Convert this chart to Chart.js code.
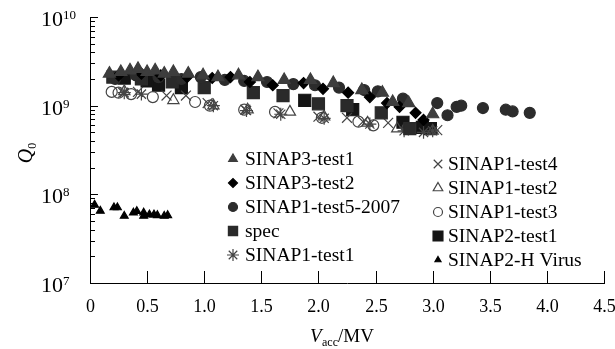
<!DOCTYPE html>
<html lang="en">
<head>
<meta charset="UTF-8">
<title>Q0 vs Vacc</title>
<script src="https://cdn.jsdelivr.net/npm/chart.js"></script>
<style>
    html, body { margin: 0; padding: 0; background: #fff; }
    #wrap { width: 615px; height: 349px; position: relative; }
</style>
</head>
<body>
<div id="wrap"><canvas id="qChart"></canvas></div>
<script>
    // accelerating voltage (MV) and Q0 for each test
    var s3t1V = [0.17, 0.27, 0.35, 0.42, 0.50, 0.57, 0.65, 0.73, 0.86, 0.99, 1.12, 1.30, 1.47, 1.70, 1.93, 2.13, 2.38, 2.56, 2.65, 2.79, 3.00];
    var s3t1Q = [2.3e9, 2.4e9, 2.5e9, 2.6e9, 2.4e9, 2.5e9, 2.3e9, 2.4e9, 2.3e9, 2.2e9, 2.1e9, 2.2e9, 2.1e9, 1.95e9, 1.95e9, 1.8e9, 1.5e9, 1.4e9, 1.1e9, 1.07e9, 0.8e9];

    var s3t2V = [0.25, 0.45, 0.62, 0.85, 1.07, 1.23, 1.40, 1.60, 1.87, 2.04, 2.26, 2.45, 2.60, 2.71, 2.85, 2.92];
    var s3t2Q = [2.2e9, 2.3e9, 2.2e9, 2.1e9, 2.05e9, 2.1e9, 1.85e9, 1.7e9, 1.8e9, 1.55e9, 1.4e9, 1.25e9, 1.07e9, 0.97e9, 0.83e9, 0.69e9];

    var s1t5V = [0.22, 0.40, 0.60, 0.80, 0.97, 1.18, 1.35, 1.55, 1.78, 1.97, 2.18, 2.40, 2.52, 2.74, 3.04, 3.13, 3.21, 3.25, 3.44, 3.64, 3.70, 3.85];
    var s1t5Q = [2.0e9, 2.2e9, 2.1e9, 2.0e9, 2.1e9, 1.95e9, 1.9e9, 1.85e9, 1.75e9, 1.7e9, 1.6e9, 1.5e9, 1.45e9, 1.2e9, 1.07e9, 0.78e9, 0.97e9, 1.0e9, 0.94e9, 0.9e9, 0.86e9, 0.83e9];

    var specV = [0.20, 0.45, 0.72, 1.00, 1.43, 1.69, 2.00, 2.25, 2.55, 2.80];
    var specQ = [2.1e9, 2.0e9, 1.85e9, 1.6e9, 1.4e9, 1.3e9, 1.05e9, 1.0e9, 0.83e9, 0.55e9];

    var s1t1V = [0.30, 0.45, 1.08, 1.37, 1.67, 2.05, 2.45, 2.75, 2.92, 3.00];
    var s1t1Q = [1.4e9, 1.35e9, 1.0e9, 0.88e9, 0.8e9, 0.72e9, 0.62e9, 0.52e9, 0.5e9, 0.52e9];

    var s1t4V = [0.29, 0.42, 0.67, 0.84, 1.03, 1.36, 1.65, 2.00, 2.25, 2.39, 2.61, 3.04];
    var s1t4Q = [1.4e9, 1.43e9, 1.3e9, 1.3e9, 1.07e9, 0.9e9, 0.82e9, 0.75e9, 0.73e9, 0.66e9, 0.64e9, 0.53e9];

    var s1t2V = [0.30, 0.73, 1.08, 1.38, 1.75, 2.05, 2.43, 2.69, 3.00];
    var s1t2Q = [1.45e9, 1.15e9, 1.0e9, 0.9e9, 0.85e9, 0.75e9, 0.64e9, 0.55e9, 0.52e9];

    var s1t3V = [0.19, 0.25, 0.36, 0.55, 0.92, 1.05, 1.35, 1.62, 2.03, 2.35, 2.48, 2.78];
    var s1t3Q = [1.43e9, 1.4e9, 1.35e9, 1.25e9, 1.1e9, 1.0e9, 0.9e9, 0.85e9, 0.73e9, 0.66e9, 0.6e9, 0.56e9];

    var s2t1V = [0.30, 0.50, 0.60, 0.80, 1.88, 2.30, 2.74, 2.91, 2.98];
    var s2t1Q = [2.05e9, 1.9e9, 1.7e9, 1.6e9, 1.15e9, 0.9e9, 0.65e9, 0.57e9, 0.55e9];

    var virusV = [0.04, 0.09, 0.21, 0.24, 0.30, 0.38, 0.41, 0.47, 0.47, 0.52, 0.56, 0.59, 0.65, 0.68];
    var virusQ = [7.6e7, 6.5e7, 7.1e7, 7.1e7, 5.7e7, 6.2e7, 6.45e7, 6.2e7, 5.7e7, 5.9e7, 5.9e7, 5.8e7, 5.7e7, 5.8e7];

    var xTicks = [0, 0.5, 1.0, 1.5, 2.0, 2.5, 3.0, 3.5, 4.0, 4.5];
    var yExponents = [7, 8, 9, 10];

    var serif = "'Liberation Serif', 'Times New Roman', serif";

    function pts(xs, ys) {
        return xs.map(function (v, i) { return { x: v, y: ys[i] }; });
    }

    function series(label, xs, ys, style, fill, stroke, radius, legendRadius) {
        return {
            label: label,
            data: pts(xs, ys),
            pointStyle: style,
            pointRadius: radius,
            pointBackgroundColor: fill,
            pointBorderColor: stroke,
            pointBorderWidth: 1.2,
            showLine: false,
            legendRadius: legendRadius
        };
    }

    var datasets = [
        series('SINAP3-test1', s3t1V, s3t1Q, 'triangle', '#3d3d3d', '#3d3d3d', 7, 5),
        series('SINAP3-test2', s3t2V, s3t2Q, 'rectRot', '#000', '#000', 5.5, 4.5),
        series('SINAP1-test5-2007', s1t5V, s1t5Q, 'circle', '#2c2c2c', '#2c2c2c', 5.5, 4.5),
        series('spec', specV, specQ, 'rect', '#2a2a2a', '#2a2a2a', 8.5, 6.5),
        series('SINAP1-test1', s1t1V, s1t1Q, 'star', 'rgba(0,0,0,0)', '#444', 6.5, 6),
        series('SINAP1-test4', s1t4V, s1t4Q, 'crossRot', 'rgba(0,0,0,0)', '#444', 7, 6),
        series('SINAP1-test2', s1t2V, s1t2Q, 'triangle', 'rgba(255,255,255,0)', '#444', 6.5, 5.5),
        series('SINAP1-test3', s1t3V, s1t3Q, 'circle', 'rgba(255,255,255,0)', '#444', 5.5, 4.5),
        series('SINAP2-test1', s2t1V, s2t1Q, 'rect', '#141414', '#141414', 8.5, 7),
        series('SINAP2-H Virus', virusV, virusQ, 'triangle', '#000', '#000', 4.5, 3.5)
    ];

    // ticks, labels, titles and in-plot legend
    var decorPlugin = {
        id: 'decor',
        afterDraw: function (chart) {
            var ctx = chart.ctx;
            var xs = chart.scales.x, ys = chart.scales.y;
            var area = chart.chartArea;
            ctx.save();
            ctx.strokeStyle = '#000';
            ctx.fillStyle = '#000';
            ctx.lineWidth = 1;

            // x ticks (inward) and labels
            ctx.font = '18px ' + serif;
            ctx.textAlign = 'center';
            ctx.textBaseline = 'alphabetic';
            xTicks.forEach(function (v) {
                var px = Math.round(xs.getPixelForValue(v)) + 0.5;
                ctx.beginPath();
                ctx.moveTo(px, area.bottom);
                ctx.lineTo(px, area.bottom - 12);
                ctx.stroke();
                ctx.fillText(v === 0 ? '0' : v.toFixed(1), px, area.bottom + 29);
            });

            // y ticks: majors, minors, 10^n labels
            yExponents.forEach(function (e) {
                var py = Math.round(ys.getPixelForValue(Math.pow(10, e))) + 0.5;
                ctx.beginPath();
                ctx.moveTo(area.left, py);
                ctx.lineTo(area.left + 8, py);
                ctx.stroke();
                if (e < 10) {
                    for (var m = 2; m <= 9; m++) {
                        var my = Math.round(ys.getPixelForValue(m * Math.pow(10, e))) + 0.5;
                        ctx.beginPath();
                        ctx.moveTo(area.left, my);
                        ctx.lineTo(area.left + 5, my);
                        ctx.stroke();
                    }
                }
                ctx.textAlign = 'left';
                ctx.font = '22px ' + serif;
                ctx.fillText('10', 41, py + 8);
                var w = ctx.measureText('10').width;
                ctx.font = '13px ' + serif;
                ctx.fillText(String(e), 41 + w, py + 1);
            });

            // y title: Q0 rotated
            ctx.save();
            ctx.translate(26, 152);
            ctx.rotate(-Math.PI / 2);
            ctx.textAlign = 'left';
            ctx.font = 'italic 20px ' + serif;
            var qw = ctx.measureText('Q').width;
            ctx.fillText('Q', -qw / 2 - 4, 6);
            ctx.font = '12px ' + serif;
            ctx.fillText('0', qw / 2 - 4, 10);
            ctx.restore();

            // x title: Vacc/MV
            ctx.textAlign = 'left';
            ctx.font = 'italic 19px ' + serif;
            ctx.fillText('V', 310, 342);
            ctx.font = '12px ' + serif;
            ctx.fillText('acc', 322, 346);
            ctx.font = '19px ' + serif;
            ctx.fillText('/MV', 338, 342);

            // legend, two columns inside the plot
            chart.data.datasets.forEach(function (ds, i) {
                var col = i < 5 ? 0 : 1;
                var row = i % 5;
                var sx = col === 0 ? 233 : 438;
                var tx = col === 0 ? 245 : 448;
                var cy = (col === 0 ? 159 : 164) + row * 24;
                ctx.fillStyle = ds.pointBackgroundColor;
                ctx.strokeStyle = ds.pointBorderColor;
                ctx.lineWidth = 1.2;
                Chart.helpers.drawPoint(ctx, {
                    pointStyle: ds.pointStyle,
                    radius: ds.legendRadius,
                    rotation: 0,
                    borderWidth: 1.2
                }, sx, cy);
                ctx.fillStyle = '#000';
                ctx.font = '19.5px ' + serif;
                ctx.textAlign = 'left';
                ctx.fillText(ds.label, tx, cy + 6);
            });
            ctx.restore();
        }
    };

    var ctx = document.getElementById('qChart').getContext('2d');
    var chart = new Chart(ctx, {
        type: 'scatter',
        data: { datasets: datasets },
        options: {
            responsive: true,
            maintainAspectRatio: false,
            animation: false,
            devicePixelRatio: 1,
            layout: { padding: { left: 90, top: 17, right: 11, bottom: 66 } },
            scales: {
                x: {
                    type: 'linear',
                    min: 0,
                    max: 4.5,
                    ticks: { display: false },
                    grid: { display: false, drawTicks: false, tickLength: 0 },
                    border: { display: true, color: '#000', width: 1 }
                },
                y: {
                    type: 'logarithmic',
                    min: 1e7,
                    max: 1e10,
                    ticks: { display: false },
                    grid: { display: false, drawTicks: false, tickLength: 0 },
                    border: { display: true, color: '#000', width: 1 }
                }
            },
            plugins: {
                legend: { display: false },
                tooltip: { enabled: false }
            }
        },
        plugins: [decorPlugin]
    });
</script>
</body>
</html>
